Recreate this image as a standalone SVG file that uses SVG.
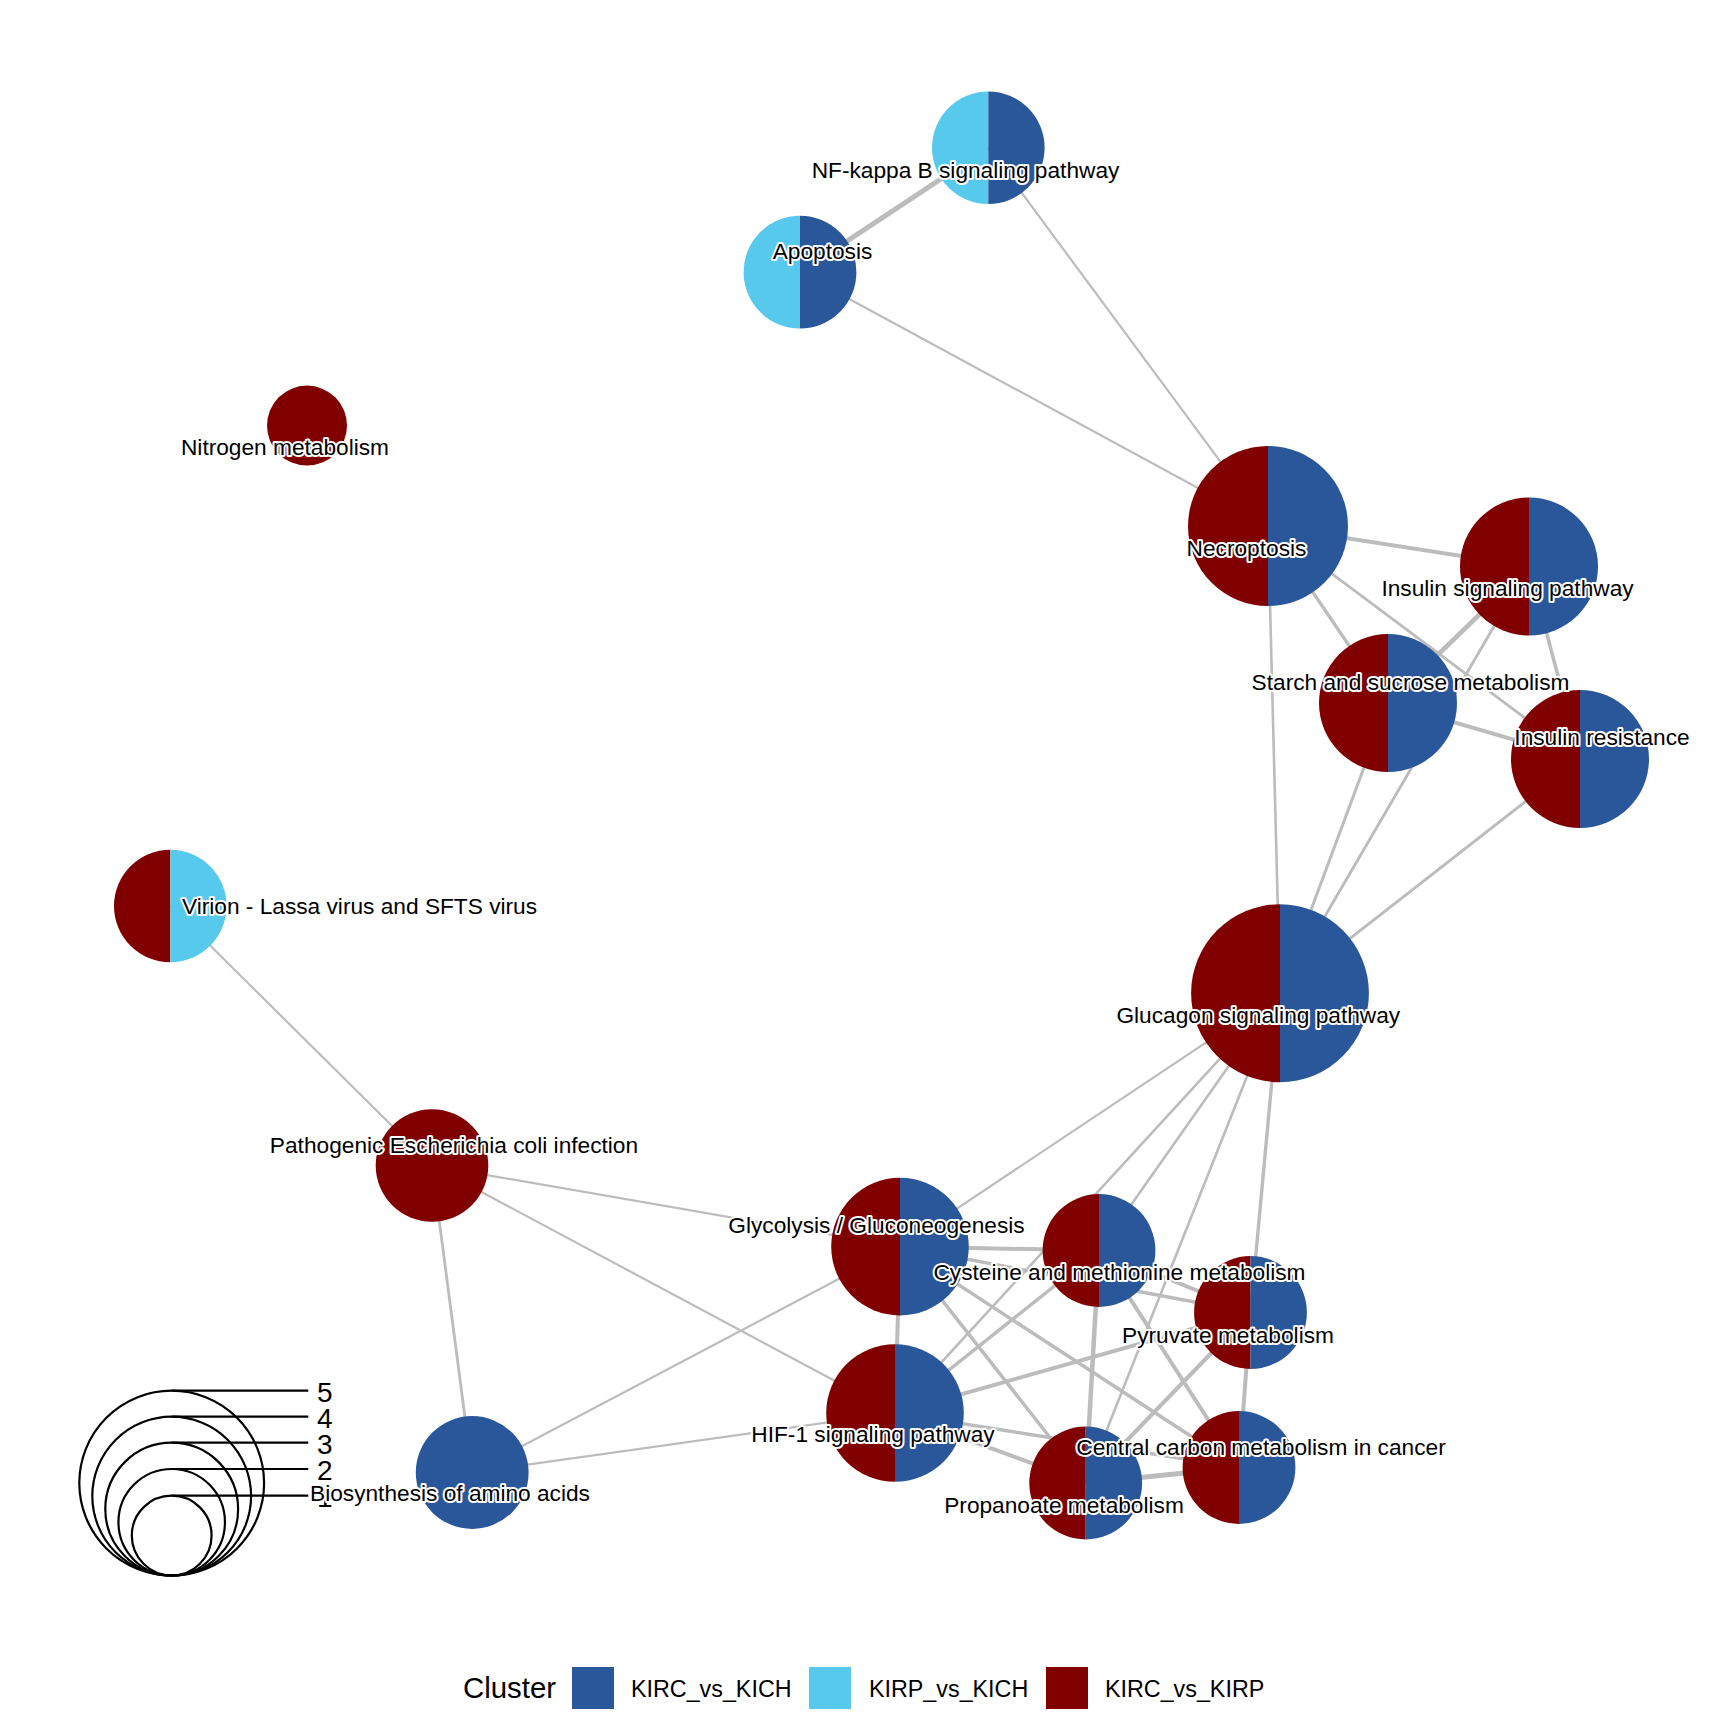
<svg xmlns="http://www.w3.org/2000/svg" width="1728" height="1728" viewBox="0 0 1728 1728">
<style>
.e{stroke:#bcbcbc;fill:none;stroke-linecap:butt}
.kc{fill:#2a579a}
.kp{fill:#57c9ec}
.rp{fill:#800000}
.lb{font-family:"Liberation Sans",Arial,sans-serif;font-size:22.7px;fill:#000;text-anchor:middle;stroke:#fff;stroke-width:4px;stroke-linejoin:round;paint-order:stroke fill}
.lg{font-family:"Liberation Sans",Arial,sans-serif;fill:#000}
.sz{fill:none;stroke:#000;stroke-width:2.2}
</style>
<rect width="1728" height="1728" fill="#fff"/>
<g id="connectors">
<line class="e" stroke-width="5" x1="988.3" y1="147.7" x2="800" y2="272.2"/>
<line class="e" stroke-width="2.2" x1="988.3" y1="147.7" x2="1268" y2="526"/>
<line class="e" stroke-width="2.2" x1="800" y1="272.2" x2="1268" y2="526"/>
<line class="e" stroke-width="4" x1="1268" y1="526" x2="1529" y2="566.5"/>
<line class="e" stroke-width="3.3" x1="1268" y1="526" x2="1388" y2="703"/>
<line class="e" stroke-width="2.8" x1="1268" y1="526" x2="1580" y2="759"/>
<line class="e" stroke-width="2.6" x1="1268" y1="526" x2="1280" y2="993.2"/>
<line class="e" stroke-width="4.7" x1="1529" y1="566.5" x2="1388" y2="703"/>
<line class="e" stroke-width="2.9" x1="1529" y1="566.5" x2="1280" y2="993.2"/>
<line class="e" stroke-width="3.5" x1="1529" y1="566.5" x2="1580" y2="759"/>
<line class="e" stroke-width="4" x1="1388" y1="703" x2="1580" y2="759"/>
<line class="e" stroke-width="3" x1="1388" y1="703" x2="1280" y2="993.2"/>
<line class="e" stroke-width="2.9" x1="1580" y1="759" x2="1280" y2="993.2"/>
<line class="e" stroke-width="2.2" x1="170.3" y1="906" x2="432" y2="1165.5"/>
<line class="e" stroke-width="2.2" x1="432" y1="1165.5" x2="900" y2="1246.6"/>
<line class="e" stroke-width="2.2" x1="432" y1="1165.5" x2="895" y2="1413"/>
<line class="e" stroke-width="2.8" x1="432" y1="1165.5" x2="472.2" y2="1472.5"/>
<line class="e" stroke-width="2.2" x1="472.2" y1="1472.5" x2="900" y2="1246.6"/>
<line class="e" stroke-width="2.2" x1="472.2" y1="1472.5" x2="895" y2="1413"/>
<line class="e" stroke-width="2.2" x1="1280" y1="993.2" x2="900" y2="1246.6"/>
<line class="e" stroke-width="2.6" x1="1280" y1="993.2" x2="895" y2="1413"/>
<line class="e" stroke-width="2.6" x1="1280" y1="993.2" x2="1099" y2="1250.5"/>
<line class="e" stroke-width="2.6" x1="1280" y1="993.2" x2="1085.7" y2="1483"/>
<line class="e" stroke-width="3.4" x1="1280" y1="993.2" x2="1250.5" y2="1312.5"/>
<line class="e" stroke-width="4" x1="900" y1="1246.6" x2="1099" y2="1250.5"/>
<line class="e" stroke-width="3.5" x1="900" y1="1246.6" x2="1250.5" y2="1312.5"/>
<line class="e" stroke-width="3.5" x1="900" y1="1246.6" x2="1239" y2="1467.5"/>
<line class="e" stroke-width="3.5" x1="900" y1="1246.6" x2="1085.7" y2="1483"/>
<line class="e" stroke-width="4" x1="900" y1="1246.6" x2="895" y2="1413"/>
<line class="e" stroke-width="3.5" x1="895" y1="1413" x2="1099" y2="1250.5"/>
<line class="e" stroke-width="4" x1="895" y1="1413" x2="1250.5" y2="1312.5"/>
<line class="e" stroke-width="3.5" x1="895" y1="1413" x2="1239" y2="1467.5"/>
<line class="e" stroke-width="4" x1="895" y1="1413" x2="1085.7" y2="1483"/>
<line class="e" stroke-width="4" x1="1099" y1="1250.5" x2="1250.5" y2="1312.5"/>
<line class="e" stroke-width="4.5" x1="1099" y1="1250.5" x2="1085.7" y2="1483"/>
<line class="e" stroke-width="4" x1="1099" y1="1250.5" x2="1239" y2="1467.5"/>
<line class="e" stroke-width="4" x1="1250.5" y1="1312.5" x2="1239" y2="1467.5"/>
<line class="e" stroke-width="4" x1="1250.5" y1="1312.5" x2="1085.7" y2="1483"/>
<line class="e" stroke-width="5" x1="1085.7" y1="1483" x2="1239" y2="1467.5"/>
</g>
<g id="size-legend">
<circle class="sz" cx="171.7" cy="1483.1" r="92.4"/>
<circle class="sz" cx="171.7" cy="1496.1" r="79.4"/>
<circle class="sz" cx="171.7" cy="1509.1" r="66.4"/>
<circle class="sz" cx="171.7" cy="1522.25" r="53.25"/>
<circle class="sz" cx="171.7" cy="1535.6" r="39.9"/>
<line class="sz" x1="171.7" y1="1390.7" x2="308.3" y2="1390.7"/>
<line class="sz" x1="171.7" y1="1416.7" x2="308.3" y2="1416.7"/>
<line class="sz" x1="171.7" y1="1442.7" x2="308.3" y2="1442.7"/>
<line class="sz" x1="171.7" y1="1469" x2="308.3" y2="1469"/>
<line class="sz" x1="171.7" y1="1495.7" x2="308.3" y2="1495.7"/>
<text class="lg" font-size="28" x="317" y="1401.5">5</text>
<text class="lg" font-size="28" x="317" y="1427.5">4</text>
<text class="lg" font-size="28" x="317" y="1453.5">3</text>
<text class="lg" font-size="28" x="317" y="1479.8">2</text>
<text class="lg" font-size="28" x="317" y="1506.5">1</text>
</g>
<g id="n-nfkb"><path class="kp" d="M988.3,91.4 A56.3,56.3 0 0 0 988.3,204 Z"/><path class="kc" d="M988.3,91.4 A56.3,56.3 0 0 1 988.3,204 Z"/></g>
<g id="n-apoptosis"><path class="kp" d="M800,215.8 A56.4,56.4 0 0 0 800,328.6 Z"/><path class="kc" d="M800,215.8 A56.4,56.4 0 0 1 800,328.6 Z"/></g>
<g id="n-nitrogen"><circle class="rp" cx="307" cy="425.6" r="40"/></g>
<g id="n-necroptosis"><path class="rp" d="M1268,446 A80,80 0 0 0 1268,606 Z"/><path class="kc" d="M1268,446 A80,80 0 0 1 1268,606 Z"/></g>
<g id="n-insulin-signaling"><path class="rp" d="M1529,497.5 A69,69 0 0 0 1529,635.5 Z"/><path class="kc" d="M1529,497.5 A69,69 0 0 1 1529,635.5 Z"/></g>
<g id="n-starch"><path class="rp" d="M1388,634 A69,69 0 0 0 1388,772 Z"/><path class="kc" d="M1388,634 A69,69 0 0 1 1388,772 Z"/></g>
<g id="n-insulin-resistance"><path class="rp" d="M1580,690 A69,69 0 0 0 1580,828 Z"/><path class="kc" d="M1580,690 A69,69 0 0 1 1580,828 Z"/></g>
<g id="n-virion"><path class="rp" d="M170.3,849.7 A56.3,56.3 0 0 0 170.3,962.3 Z"/><path class="kp" d="M170.3,849.7 A56.3,56.3 0 0 1 170.3,962.3 Z"/></g>
<g id="n-glucagon"><path class="rp" d="M1280,904.2 A89,89 0 0 0 1280,1082.2 Z"/><path class="kc" d="M1280,904.2 A89,89 0 0 1 1280,1082.2 Z"/></g>
<g id="n-pathogenic"><circle class="rp" cx="432" cy="1165.5" r="56.3"/></g>
<g id="n-glycolysis"><path class="rp" d="M900,1177.8 A68.8,68.8 0 0 0 900,1315.4 Z"/><path class="kc" d="M900,1177.8 A68.8,68.8 0 0 1 900,1315.4 Z"/></g>
<g id="n-cysteine"><path class="rp" d="M1099,1194.1 A56.4,56.4 0 0 0 1099,1306.9 Z"/><path class="kc" d="M1099,1194.1 A56.4,56.4 0 0 1 1099,1306.9 Z"/></g>
<g id="n-pyruvate"><path class="rp" d="M1250.5,1256.1 A56.4,56.4 0 0 0 1250.5,1368.9 Z"/><path class="kc" d="M1250.5,1256.1 A56.4,56.4 0 0 1 1250.5,1368.9 Z"/></g>
<g id="n-hif1"><path class="rp" d="M895,1344.2 A68.8,68.8 0 0 0 895,1481.8 Z"/><path class="kc" d="M895,1344.2 A68.8,68.8 0 0 1 895,1481.8 Z"/></g>
<g id="n-biosynthesis"><circle class="kc" cx="472.2" cy="1472.5" r="56.4"/></g>
<g id="n-propanoate"><path class="rp" d="M1085.7,1426.6 A56.4,56.4 0 0 0 1085.7,1539.4 Z"/><path class="kc" d="M1085.7,1426.6 A56.4,56.4 0 0 1 1085.7,1539.4 Z"/></g>
<g id="n-central-carbon"><path class="rp" d="M1239,1411.1 A56.4,56.4 0 0 0 1239,1523.9 Z"/><path class="kc" d="M1239,1411.1 A56.4,56.4 0 0 1 1239,1523.9 Z"/></g>
<g id="labels">
<text class="lb" x="965.5" y="178.3">NF-kappa B signaling pathway</text>
<text class="lb" x="822.5" y="258.5">Apoptosis</text>
<text class="lb" x="285" y="455">Nitrogen metabolism</text>
<text class="lb" x="1246.5" y="556">Necroptosis</text>
<text class="lb" x="1507.5" y="596">Insulin signaling pathway</text>
<text class="lb" x="1410.5" y="690">Starch and sucrose metabolism</text>
<text class="lb" x="1602" y="745">Insulin resistance</text>
<text class="lb" x="359.5" y="914">Virion - Lassa virus and SFTS virus</text>
<text class="lb" x="1258.3" y="1022.7">Glucagon signaling pathway</text>
<text class="lb" x="454" y="1152.7">Pathogenic Escherichia coli infection</text>
<text class="lb" x="876.5" y="1232.7">Glycolysis / Gluconeogenesis</text>
<text class="lb" x="1119.5" y="1280">Cysteine and methionine metabolism</text>
<text class="lb" x="1228" y="1343">Pyruvate metabolism</text>
<text class="lb" x="873" y="1441.5">HIF-1 signaling pathway</text>
<text class="lb" x="450" y="1501">Biosynthesis of amino acids</text>
<text class="lb" x="1064" y="1513">Propanoate metabolism</text>
<text class="lb" x="1261" y="1455">Central carbon metabolism in cancer</text>
</g>
<g id="cluster-legend">
<text class="lg" font-size="29.4" x="463" y="1698">Cluster</text>
<rect class="kc" x="572" y="1667" width="42" height="42"/>
<rect class="kp" x="809" y="1667" width="42" height="42"/>
<rect class="rp" x="1046" y="1667" width="42" height="42"/>
<text class="lg" font-size="23.3" x="631" y="1697">KIRC_vs_KICH</text>
<text class="lg" font-size="23.3" x="869" y="1697">KIRP_vs_KICH</text>
<text class="lg" font-size="23.3" x="1105" y="1697">KIRC_vs_KIRP</text>
</g>
</svg>
